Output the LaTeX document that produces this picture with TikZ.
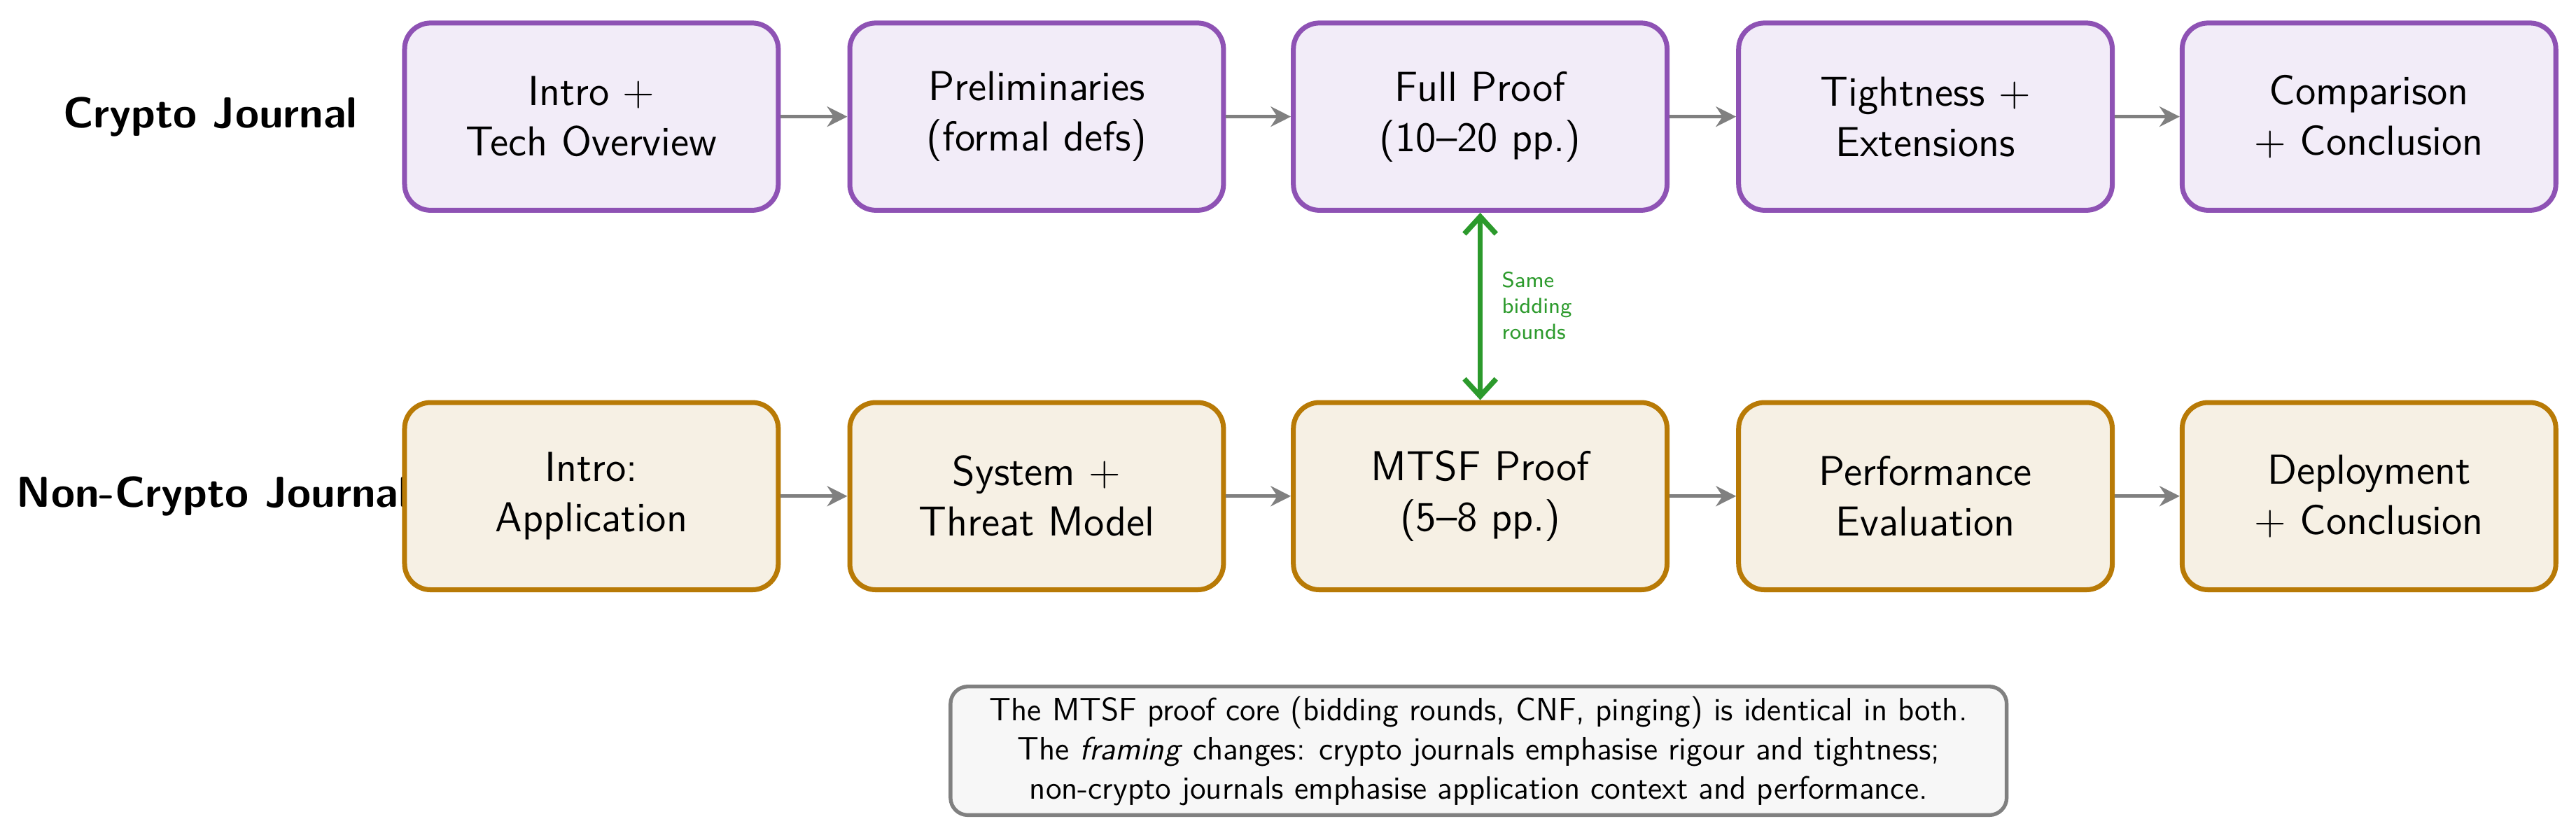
\documentclass[tikz,border=0pt]{standalone}
\usetikzlibrary{arrows.meta}
\begin{document}
\sffamily
\definecolor{pur}{RGB}{142,82,180}
\definecolor{purf}{RGB}{242,236,248}
\definecolor{gld}{RGB}{184,122,6}
\definecolor{gldf}{RGB}{246,240,228}
\definecolor{grn}{RGB}{44,154,44}
\begin{tikzpicture}[x=0.02cm,y=-0.02cm,
  box/.style={draw,line width=1.7pt,rounded corners=9pt,minimum width=4.55cm,minimum height=2.28cm,align=center,font=\fontsize{14.5}{17.5}\selectfont},
  cbox/.style={box,draw=pur,fill=purf},
  nbox/.style={box,draw=gld,fill=gldf},
  lab/.style={font=\fontsize{15}{18}\selectfont\bfseries},
  arr/.style={-{Stealth[length=7pt,width=7pt]},gray,line width=1.3pt}]
\useasboundingbox (0,0) rectangle (1568,507);
\node[lab] (lc) at (128,71) {Crypto Journal};
\node[lab,anchor=west] (ln) at (4,302) {Non-Crypto Journal};
\node[cbox] (c1) at (360,71) {Intro +\\Tech Overview};
\node[cbox] (c2) at (631,71) {Preliminaries\\(formal defs)};
\node[cbox] (c3) at (901,71) {Full Proof\\(10--20 pp.)};
\node[cbox] (c4) at (1172,71) {Tightness +\\Extensions};
\node[cbox] (c5) at (1442,71) {Comparison\\+ Conclusion};
\node[nbox] (n1) at (360,302) {Intro:\\Application};
\node[nbox] (n2) at (631,302) {System +\\Threat Model};
\node[nbox] (n3) at (901,302) {MTSF Proof\\(5--8 pp.)};
\node[nbox] (n4) at (1172,302) {Performance\\Evaluation};
\node[nbox] (n5) at (1442,302) {Deployment\\+ Conclusion};
\foreach \a/\b in {c1/c2,c2/c3,c3/c4,c4/c5,n1/n2,n2/n3,n3/n4,n4/n5}
  \draw[arr] (\a) -- (\b);
\draw[{Straight Barb[length=6pt,width=11pt,line width=1.8pt]}-{Straight Barb[length=6pt,width=11pt,line width=1.8pt]},grn,line width=1.8pt] (c3) -- (n3);
\node[text=grn,font=\fontsize{7.5}{9}\selectfont,align=left,anchor=west] (sl) at (908,186) {Same\\bidding\\rounds};
\node[draw=gray,line width=1.3pt,fill=black!3,rounded corners=6pt,align=center,minimum width=12.86cm,minimum height=1.56cm,font=\fontsize{11.2}{13.6}\selectfont] (note) at (900,457)
 {The MTSF proof core (bidding rounds, CNF, pinging) is identical in both.\\
  The \textit{framing} changes: crypto journals emphasise rigour and tightness;\\
  non-crypto journals emphasise application context and performance.};
\end{tikzpicture}
\end{document}
